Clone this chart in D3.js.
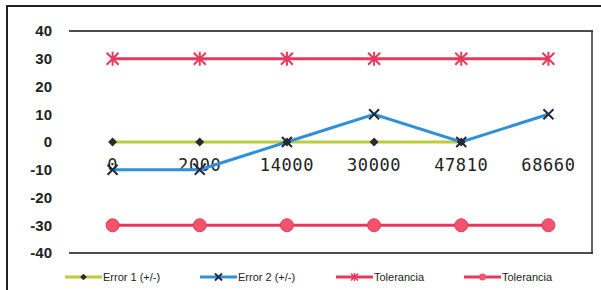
<!DOCTYPE html>
<html>
<head>
<meta charset="utf-8">
<script src="https://cdn.jsdelivr.net/npm/d3@7"></script>
<style>
  body { margin: 0; background: #fff; }
  svg { display: block; }
</style>
</head>
<body>
<script>
// chart data
var categories = ["0", "2000", "14000", "30000", "47810", "68660"];
var error1 = [0, 0, 0, 0, 0, null];
var error2 = [-10, -10, 0, 10, 0, 10];
var tol1 = [30, 30, 30, 30, 30, 30];
var tol2 = [-30, -30, -30, -30, -30, -30];
var yTicks = [40, 30, 20, 10, 0, -10, -20, -30, -40];

var w = 601, h = 290;
var pLeft = 69, pRight = 592, pTop = 31, pBottom = 253;

var svg = d3.select("body").append("svg")
  .attr("width", w).attr("height", h);

// outer chart frame
svg.append("rect")
  .attr("x", 7).attr("y", 6).attr("width", 600).attr("height", 300)
  .attr("fill", "none").attr("stroke", "#222").attr("stroke-width", 2);

var x = d3.scalePoint().domain(categories).range([pLeft, pRight]).padding(0.5);
var y = d3.scaleLinear().domain([-40, 40]).range([pBottom, pTop]);

// top / bottom lines + right edge of plot
svg.append("line").attr("x1", pLeft).attr("x2", pRight + 1)
  .attr("y1", y(40)).attr("y2", y(40)).attr("stroke", "#111").attr("stroke-width", 1.6);
svg.append("line").attr("x1", pLeft).attr("x2", pRight + 1)
  .attr("y1", y(-40)).attr("y2", y(-40)).attr("stroke", "#111").attr("stroke-width", 1.6);
svg.append("line").attr("x1", pRight).attr("x2", pRight)
  .attr("y1", y(40)).attr("y2", y(-40)).attr("stroke", "#222").attr("stroke-width", 1.4);

// y labels
svg.selectAll("text.ylab")
  .data(yTicks)
  .enter()
  .append("text")
  .attr("class", "ylab")
  .attr("x", 52)
  .attr("y", function(d) { return y(d); })
  .attr("dy", "0.36em")
  .attr("text-anchor", "end")
  .attr("font-family", "Liberation Sans, Arial, sans-serif")
  .attr("font-weight", "bold")
  .attr("font-size", "15px")
  .attr("fill", "#222")
  .text(function(d) { return d; });

// x labels sit just under the 0 line
svg.selectAll("text.xlab")
  .data(categories)
  .enter()
  .append("text")
  .attr("class", "xlab")
  .attr("x", function(d) { return x(d); })
  .attr("y", y(0) + 29)
  .attr("text-anchor", "middle")
  .attr("font-family", "DejaVu Sans Mono, monospace")
  .attr("font-size", "17px")
  .attr("letter-spacing", "0.6px")
  .attr("fill", "#222")
  .text(function(d) { return d; });

var line = d3.line()
  .defined(function(d) { return d != null; })
  .x(function(d, i) { return x(categories[i]); })
  .y(function(d) { return y(d); });

function drawLine(vals, color) {
  svg.append("path")
    .datum(vals)
    .attr("d", line)
    .attr("fill", "none")
    .attr("stroke", color)
    .attr("stroke-width", 3);
}

drawLine(tol1, "#e8385c");
drawLine(tol2, "#e8385c");
drawLine(error1, "#bccc3c");
drawLine(error2, "#2f8fd8");

// markers
function pts(vals) {
  var out = [];
  vals.forEach(function(v, i) { if (v != null) out.push({ cx: x(categories[i]), cy: y(v) }); });
  return out;
}

var sym = d3.symbol();

svg.selectAll("path.diamond")
  .data(pts(error1))
  .enter()
  .append("path")
  .attr("class", "diamond")
  .attr("transform", function(d) { return "translate(" + d.cx + "," + d.cy + ") rotate(45)"; })
  .attr("d", sym.type(d3.symbolSquare).size(40)())
  .attr("fill", "#2b2b2b");

svg.selectAll("path.xmark")
  .data(pts(error2))
  .enter()
  .append("path")
  .attr("class", "xmark")
  .attr("transform", function(d) { return "translate(" + d.cx + "," + d.cy + ")"; })
  .attr("d", "M-5,-5L5,5M-5,5L5,-5")
  .attr("stroke", "#1f2a3a")
  .attr("stroke-width", 2);

svg.selectAll("path.star")
  .data(pts(tol1))
  .enter()
  .append("path")
  .attr("class", "star")
  .attr("transform", function(d) { return "translate(" + d.cx + "," + d.cy + ")"; })
  .attr("d", "M-6,-6L6,6M-6,6L6,-6M0,-7L0,7")
  .attr("stroke", "#e8385c")
  .attr("stroke-width", 2);

svg.selectAll("circle.dot")
  .data(pts(tol2))
  .enter()
  .append("circle")
  .attr("class", "dot")
  .attr("cx", function(d) { return d.cx; })
  .attr("cy", function(d) { return d.cy; })
  .attr("r", 6.5)
  .attr("fill", "#f25470")
  .attr("stroke", "#e8385c")
  .attr("stroke-width", 1);

// legend
var legend = [
  { name: "Error 1 (+/-)", color: "#bccc3c", x: 65, mark: "diamond" },
  { name: "Error 2 (+/-)", color: "#2f8fd8", x: 200, mark: "x" },
  { name: "Tolerancia", color: "#e8385c", x: 336, mark: "star" },
  { name: "Tolerancia", color: "#e8385c", x: 464, mark: "dot" }
];
var ly = 277;

legend.forEach(function(d) {
  var g = svg.append("g").attr("transform", "translate(" + d.x + "," + ly + ")");
  g.append("line").attr("x1", 0).attr("x2", 37).attr("y1", 0).attr("y2", 0)
    .attr("stroke", d.color).attr("stroke-width", 3);
  if (d.mark == "diamond") {
    g.append("path").attr("transform", "translate(18.5,0) rotate(45)")
      .attr("d", d3.symbol().type(d3.symbolSquare).size(22)()).attr("fill", "#2b2b2b");
  } else if (d.mark == "x") {
    g.append("path").attr("transform", "translate(18.5,0)")
      .attr("d", "M-3.5,-3.5L3.5,3.5M-3.5,3.5L3.5,-3.5").attr("stroke", "#1f2a3a").attr("stroke-width", 1.8);
  } else if (d.mark == "star") {
    g.append("path").attr("transform", "translate(18.5,0)")
      .attr("d", "M-3.5,-3.5L3.5,3.5M-3.5,3.5L3.5,-3.5M0,-4L0,4").attr("stroke", d.color).attr("stroke-width", 1.5);
  } else {
    g.append("circle").attr("cx", 18.5).attr("cy", 0).attr("r", 3.5)
      .attr("fill", "#f25470");
  }
  g.append("text")
    .attr("x", 38).attr("y", 0).attr("dy", "0.36em")
    .attr("font-family", "Liberation Sans, Arial, sans-serif")
    .attr("font-size", "11px")
    .attr("fill", "#222")
    .text(d.name);
});
</script>
</body>
</html>
